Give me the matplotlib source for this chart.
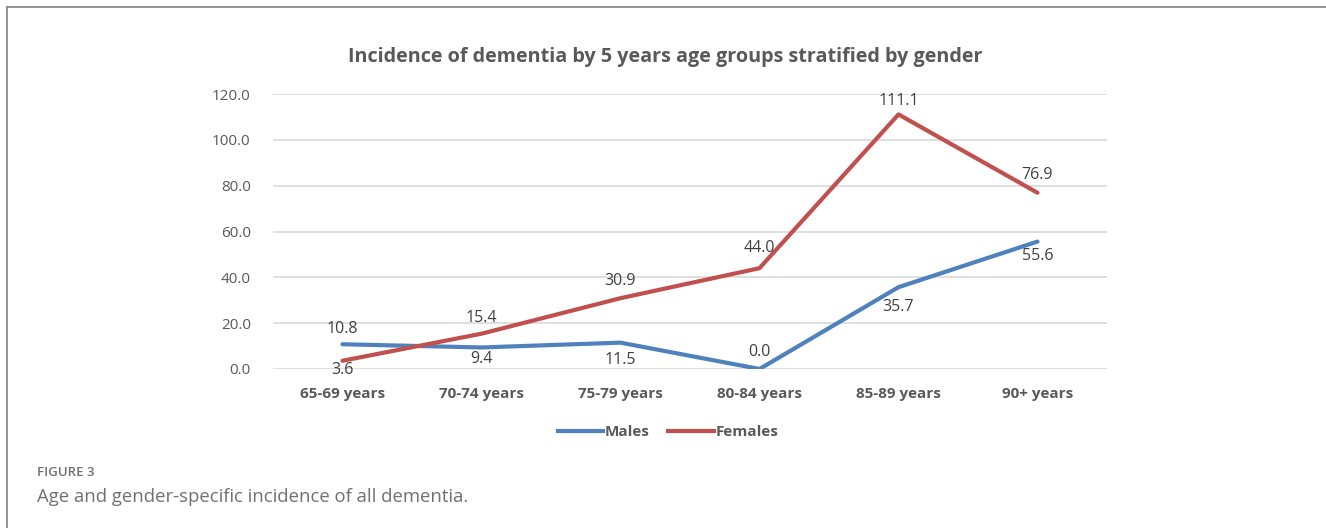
import matplotlib.pyplot as plt
from matplotlib.lines import Line2D

# data
grupos = ["65-69 years", "70-74 years", "75-79 years", "80-84 years", "85-89 years", "90+ years"]
homens = [10.8, 9.4, 11.5, 0.0, 35.7, 55.6]
mulheres = [3.6, 15.4, 30.9, 44.0, 111.1, 76.9]

# deslocamento vertical dos rotulos (pontos): + acima, - abaixo
desl_homens = [11, -8.5, -12.5, 12, -14, -10.5]
desl_mulheres = [-7, 11, 12.5, 14.5, 10, 13]

azul = "#4F81BD"
vermelho = "#C0504D"
cinza = "#595959"

plt.rcParams['font.family'] = ['Open Sans', 'DejaVu Sans']

fig = plt.figure(figsize=(13.26, 5.28), dpi=100)
ax = fig.add_axes([273/1326, 1-369/528, 834/1326, 275/528])

x = list(range(len(grupos)))
ax.plot(x, homens, color=azul, lw=3, solid_capstyle='round', zorder=3)
ax.plot(x, mulheres, color=vermelho, lw=3, solid_capstyle='round', zorder=3)

for i in x:
    ax.annotate(f"{homens[i]:.1f}", (i, homens[i]), xytext=(0, desl_homens[i]),
                textcoords='offset points', ha='center', va='center', fontsize=11.5, color="#404040")
    ax.annotate(f"{mulheres[i]:.1f}", (i, mulheres[i]), xytext=(0, desl_mulheres[i]),
                textcoords='offset points', ha='center', va='center', fontsize=11.5, color="#404040")

ax.set_xlim(-0.5, len(grupos)-0.5)
ax.set_ylim(0, 120)
ax.set_yticks([0, 20, 40, 60, 80, 100, 120])
ax.set_yticklabels([f"{v:.1f}" for v in [0, 20, 40, 60, 80, 100, 120]], fontsize=11, color=cinza)
ax.set_xticks(x)
ax.set_xticklabels(grupos, fontsize=11, color=cinza, fontweight='bold')
ax.tick_params(length=0)
ax.tick_params(axis='x', pad=13)
ax.tick_params(axis='y', pad=16)
ax.grid(axis='y', color="#D9D9D9", lw=1.2)
ax.set_axisbelow(True)
for s in ax.spines.values():
    s.set_visible(False)

fig.text(665/1326, 1-57/528, "Incidence of dementia by 5 years age groups stratified by gender",
         ha='center', va='center', fontsize=14.2, fontweight='bold', color=cinza)

handles = [Line2D([], [], color=azul, lw=3), Line2D([], [], color=vermelho, lw=3)]
fig.legend(handles, ["Males", "Females"], loc='center', bbox_to_anchor=(668/1326, 1-432/528),
           ncol=2, frameon=False, handlelength=3, handletextpad=0.1, columnspacing=1.2,
           prop={'size': 11, 'weight': 'bold'}, labelcolor=cinza)

# legenda da figura
fig.text(37/1326, 1-473/528, "FIGURE 3", ha='left', va='center', fontsize=9.5, fontweight='semibold',
         color="#707070")
fig.text(37/1326, 1-497/528, "Age and gender-specific incidence of all dementia.", ha='left', va='center',
         fontsize=13.3, color="#707070")

# moldura (topo e esquerda)
fig.add_artist(Line2D([7/1326, 1], [1-7/528, 1-7/528], color="#808080", lw=1.2))
fig.add_artist(Line2D([7/1326, 7/1326], [0, 1-7/528], color="#808080", lw=1.2))

fig.savefig("out.png", dpi=100)
